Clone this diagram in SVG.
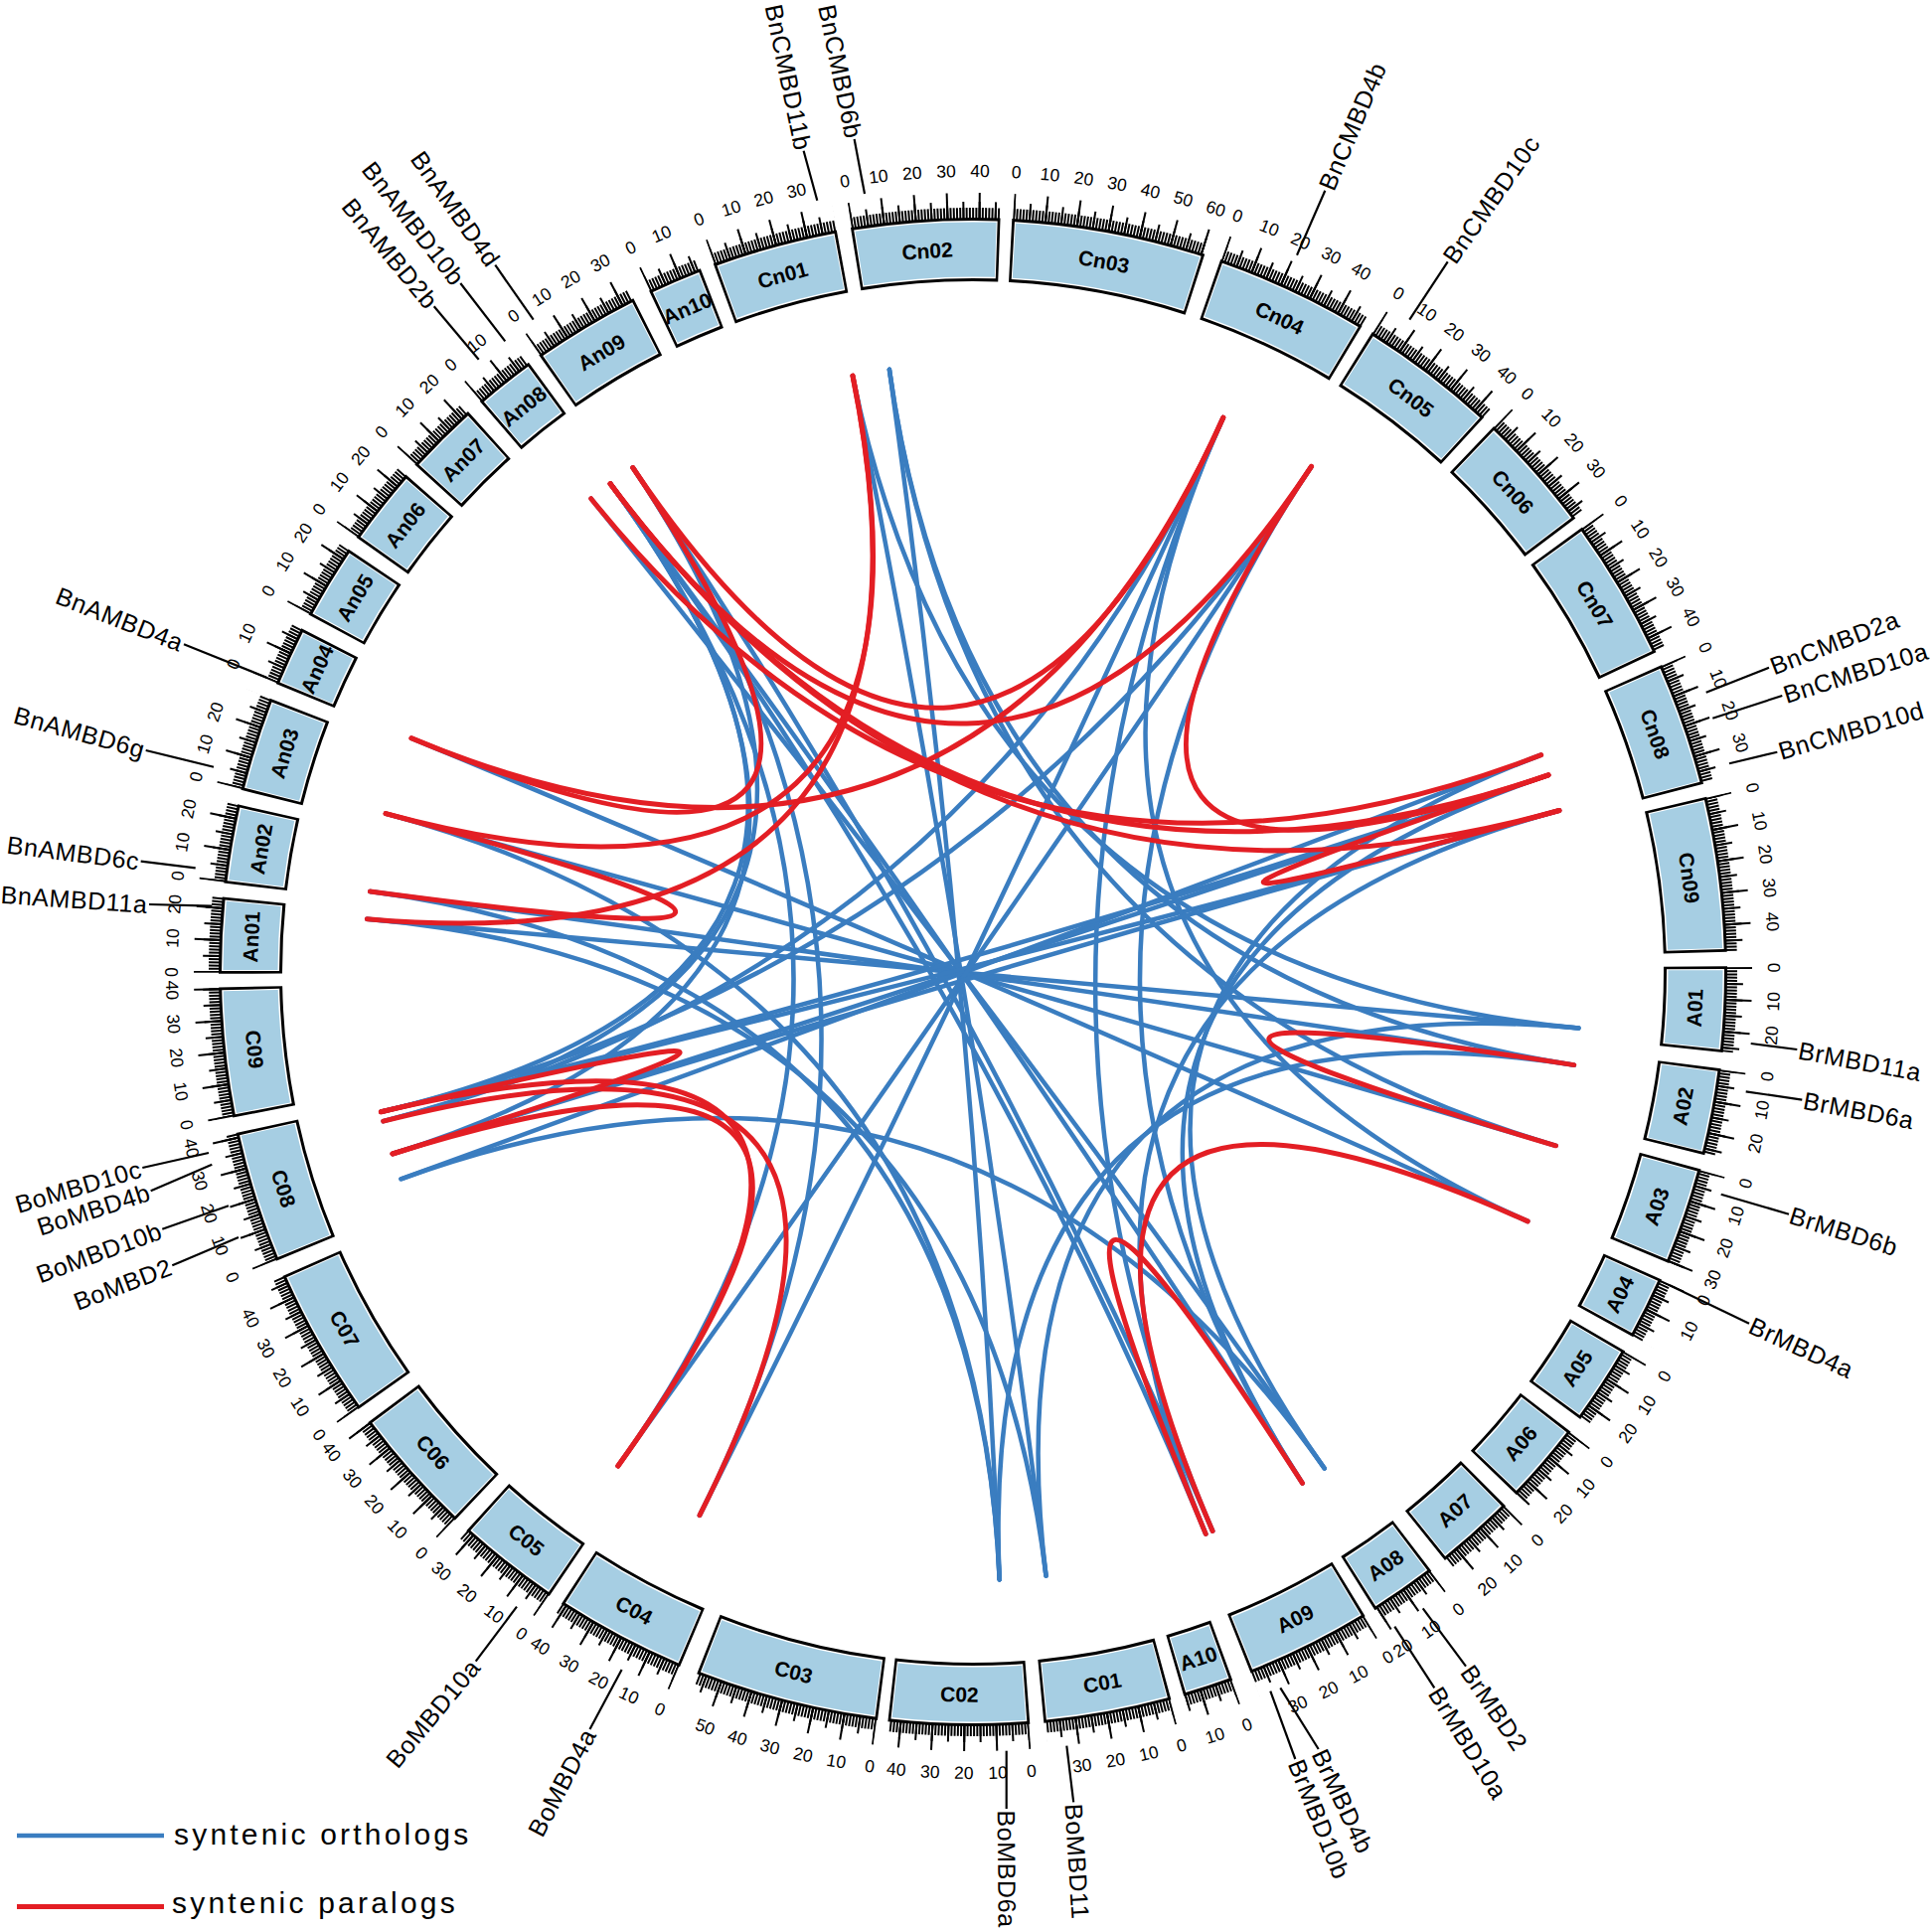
<svg xmlns="http://www.w3.org/2000/svg" width="1944" height="1944" viewBox="0 0 1944 1944">
<style>
text{font-family:"Liberation Sans",Arial,Helvetica,sans-serif;fill:#000}
.cl{font-weight:bold;font-size:21px;text-anchor:middle}
.tn{font-size:17.5px;text-anchor:middle}
.gn{font-size:25px;letter-spacing:0.6px;dominant-baseline:central}
.ge{text-anchor:end}
.ld{stroke:#000;stroke-width:2.2;fill:none}
.or path,.pa path{fill:none;stroke-linecap:round}
.or{stroke:#3a7dc0;stroke-width:4.5}
.pa{stroke:#e31e24;stroke-width:5}
.lg{font-size:30px;letter-spacing:3.2px}
</style>
<defs>
<circle id="rO" cx="979" cy="978" r="727" pathLength="360" fill="none" stroke="#000" stroke-width="64" transform="rotate(-0.13 979 978)"/>
<circle id="rW" cx="979" cy="978" r="727" pathLength="360" fill="none" stroke="#fff" stroke-width="58" transform="rotate(0.08 979 978)"/>
<circle id="rF" cx="979" cy="978" r="727" pathLength="360" fill="none" stroke="#a6cee3" stroke-width="55" transform="rotate(0.16 979 978)"/>
<g id="tk" fill="none" stroke="#000" transform="rotate(-0.075 979 978)">
<circle cx="979" cy="978" r="763" pathLength="1484.536" stroke-width="12" stroke-dasharray="0.62 0.38"/>
<circle cx="979" cy="978" r="766" pathLength="1484.536" stroke-width="18" stroke-dasharray="0.62 4.38"/>
<circle cx="979" cy="978" r="770.5" pathLength="1484.536" stroke-width="27" stroke-dasharray="0.62 9.38"/>
</g>
<circle id="mc" cx="979" cy="978" r="771" pathLength="360" fill="none" stroke="#fff" stroke-width="44" transform="rotate(-0.06 979 978)"/>
<mask id="m15" maskUnits="userSpaceOnUse" x="0" y="0" width="1944" height="1944"><use href="#mc" stroke-dasharray="3.8175 400"/></mask>
<mask id="m16" maskUnits="userSpaceOnUse" x="0" y="0" width="1944" height="1944"><use href="#mc" stroke-dasharray="4.06 400"/></mask>
<mask id="m18" maskUnits="userSpaceOnUse" x="0" y="0" width="1944" height="1944"><use href="#mc" stroke-dasharray="4.545 400"/></mask>
<mask id="m19" maskUnits="userSpaceOnUse" x="0" y="0" width="1944" height="1944"><use href="#mc" stroke-dasharray="4.7875 400"/></mask>
<mask id="m20" maskUnits="userSpaceOnUse" x="0" y="0" width="1944" height="1944"><use href="#mc" stroke-dasharray="5.03 400"/></mask>
<mask id="m22" maskUnits="userSpaceOnUse" x="0" y="0" width="1944" height="1944"><use href="#mc" stroke-dasharray="5.515 400"/></mask>
<mask id="m23" maskUnits="userSpaceOnUse" x="0" y="0" width="1944" height="1944"><use href="#mc" stroke-dasharray="5.7575 400"/></mask>
<mask id="m24" maskUnits="userSpaceOnUse" x="0" y="0" width="1944" height="1944"><use href="#mc" stroke-dasharray="6 400"/></mask>
<mask id="m25" maskUnits="userSpaceOnUse" x="0" y="0" width="1944" height="1944"><use href="#mc" stroke-dasharray="6.2425 400"/></mask>
<mask id="m26" maskUnits="userSpaceOnUse" x="0" y="0" width="1944" height="1944"><use href="#mc" stroke-dasharray="6.485 400"/></mask>
<mask id="m29" maskUnits="userSpaceOnUse" x="0" y="0" width="1944" height="1944"><use href="#mc" stroke-dasharray="7.2125 400"/></mask>
<mask id="m30" maskUnits="userSpaceOnUse" x="0" y="0" width="1944" height="1944"><use href="#mc" stroke-dasharray="7.455 400"/></mask>
<mask id="m32" maskUnits="userSpaceOnUse" x="0" y="0" width="1944" height="1944"><use href="#mc" stroke-dasharray="7.94 400"/></mask>
<mask id="m33" maskUnits="userSpaceOnUse" x="0" y="0" width="1944" height="1944"><use href="#mc" stroke-dasharray="8.1825 400"/></mask>
<mask id="m37" maskUnits="userSpaceOnUse" x="0" y="0" width="1944" height="1944"><use href="#mc" stroke-dasharray="9.1525 400"/></mask>
<mask id="m38" maskUnits="userSpaceOnUse" x="0" y="0" width="1944" height="1944"><use href="#mc" stroke-dasharray="9.395 400"/></mask>
<mask id="m39" maskUnits="userSpaceOnUse" x="0" y="0" width="1944" height="1944"><use href="#mc" stroke-dasharray="9.6375 400"/></mask>
<mask id="m40" maskUnits="userSpaceOnUse" x="0" y="0" width="1944" height="1944"><use href="#mc" stroke-dasharray="9.88 400"/></mask>
<mask id="m41" maskUnits="userSpaceOnUse" x="0" y="0" width="1944" height="1944"><use href="#mc" stroke-dasharray="10.1225 400"/></mask>
<mask id="m43" maskUnits="userSpaceOnUse" x="0" y="0" width="1944" height="1944"><use href="#mc" stroke-dasharray="10.6075 400"/></mask>
<mask id="m44" maskUnits="userSpaceOnUse" x="0" y="0" width="1944" height="1944"><use href="#mc" stroke-dasharray="10.85 400"/></mask>
<mask id="m46" maskUnits="userSpaceOnUse" x="0" y="0" width="1944" height="1944"><use href="#mc" stroke-dasharray="11.335 400"/></mask>
<mask id="m47" maskUnits="userSpaceOnUse" x="0" y="0" width="1944" height="1944"><use href="#mc" stroke-dasharray="11.5775 400"/></mask>
<mask id="m48" maskUnits="userSpaceOnUse" x="0" y="0" width="1944" height="1944"><use href="#mc" stroke-dasharray="11.82 400"/></mask>
<mask id="m57" maskUnits="userSpaceOnUse" x="0" y="0" width="1944" height="1944"><use href="#mc" stroke-dasharray="14.0025 400"/></mask>
<mask id="m60" maskUnits="userSpaceOnUse" x="0" y="0" width="1944" height="1944"><use href="#mc" stroke-dasharray="14.73 400"/></mask>
</defs>
<rect width="1944" height="1944" fill="#fff"/>

<g id="links">
<g class="or">
<path d="M369.3 924.7Q979 978 1588.4 1034.5"/>
<path d="M372.4 897.1Q979 978 1583.8 1071.6"/>
<path d="M388.1 818.6Q979 978 1565.5 1152.8"/>
<path d="M414 742.8Q979 978 1537.2 1228.9"/>
<path d="M636.8 470.6Q979 978 1220.1 1540.5"/>
<path d="M594.7 501.7Q979 978 1332.7 1477.5"/>
<path d="M614.1 486.7Q979 978 1310.5 1492.4"/>
<path d="M614.1 486.7Q979 978 1213.2 1543.4"/>
<path d="M858 378.1Q979 978 1052.5 1585.6"/>
<path d="M894.9 371.8Q979 978 1005.7 1589.4"/>
<path d="M1230.8 420.2Q979 978 704 1524.7"/>
<path d="M1230.8 420.2Q979 978 385.7 1128.1"/>
<path d="M1550.7 759.7Q979 978 403.5 1186.3"/>
<path d="M1558 779.8Q979 978 395 1161"/>
<path d="M1569 815.5Q979 978 383.4 1118.8"/>
<path d="M1319.5 469.4Q979 978 621.9 1475"/>
<path d="M369.3 924.7Q979 978 1052.5 1585.6"/>
<path d="M372.4 897.1Q979 978 1005.7 1589.4"/>
<path d="M388.1 818.6Q979 978 1005.7 1589.4"/>
<path d="M636.8 470.6Q979 978 704 1524.7"/>
<path d="M614.1 486.7Q979 978 395 1161"/>
<path d="M614.1 486.7Q979 978 621.9 1475"/>
<path d="M858 378.1Q979 978 1588.4 1034.5"/>
<path d="M894.9 371.8Q979 978 1583.8 1071.6"/>
<path d="M894.9 371.8Q979 978 1565.5 1152.8"/>
<path d="M1230.8 420.2Q979 978 1537.2 1228.9"/>
<path d="M1230.8 420.2Q979 978 1220.1 1540.5"/>
<path d="M1550.7 759.7Q979 978 1332.7 1477.5"/>
<path d="M1558 779.8Q979 978 1310.5 1492.4"/>
<path d="M1569 815.5Q979 978 1213.2 1543.4"/>
<path d="M1319.5 469.4Q979 978 1310.5 1492.4"/>
<path d="M636.8 470.6Q979 978 385.7 1128.1"/>
<path d="M1558 779.8Q979 978 383.4 1118.8"/>
<path d="M1569 815.5Q979 978 395 1161"/>
<path d="M614.1 486.7Q979 978 383.4 1118.8"/>
<path d="M1319.5 469.4Q979 978 383.4 1118.8"/>
<path d="M1588.4 1034.5Q979 978 1052.5 1585.6"/>
<path d="M1583.8 1071.6Q979 978 1005.7 1589.4"/>
<path d="M1332.7 1477.5Q979 978 403.5 1186.3"/>
</g>
<g class="pa">
<path d="M372.4 897.1Q979 978 388.1 818.6"/>
<path d="M369.3 924.7Q979 978 858 378.1"/>
<path d="M388.1 818.6Q979 978 858 378.1"/>
<path d="M414 742.8Q979 978 1230.8 420.2"/>
<path d="M636.8 470.6Q979 978 1230.8 420.2"/>
<path d="M594.7 501.7Q979 978 1550.7 759.7"/>
<path d="M614.1 486.7Q979 978 1558 779.8"/>
<path d="M614.1 486.7Q979 978 1569 815.5"/>
<path d="M614.1 486.7Q979 978 1319.5 469.4"/>
<path d="M1558 779.8Q979 978 1569 815.5"/>
<path d="M1319.5 469.4Q979 978 1558 779.8"/>
<path d="M1583.8 1071.6Q979 978 1565.5 1152.8"/>
<path d="M1537.2 1228.9Q979 978 1220.1 1540.5"/>
<path d="M1310.5 1492.4Q979 978 1213.2 1543.4"/>
<path d="M383.4 1118.8Q979 978 395 1161"/>
<path d="M704 1524.7Q979 978 385.7 1128.1"/>
<path d="M621.9 1475Q979 978 383.4 1118.8"/>
<path d="M621.9 1475Q979 978 395 1161"/>
<path d="M414 742.8Q979 978 636.8 470.6"/>
</g>
</g>

<g id="An01"><g transform="rotate(180 979 978)"><use href="#rO" stroke-dasharray="5.838 400"/><use href="#rW" stroke-dasharray="5.418 400"/><use href="#rF" stroke-dasharray="5.258 400"/><g mask="url(#m23)"><use href="#tk"/></g></g><text class="cl" x="979" y="258.5" transform="rotate(272.79 979 978)">An01</text><g class="tn"><text x="979" y="178" transform="rotate(270 979 978)">0</text><text x="979" y="178" transform="rotate(272.425 979 978)">10</text><text x="979" y="178" transform="rotate(274.85 979 978)">20</text></g></g>
<g id="An02"><g transform="rotate(186.9 979 978)"><use href="#rO" stroke-dasharray="6.08 400"/><use href="#rW" stroke-dasharray="5.66 400"/><use href="#rF" stroke-dasharray="5.5 400"/><g mask="url(#m24)"><use href="#tk"/></g></g><text class="cl" x="979" y="258.5" transform="rotate(279.81 979 978)">An02</text><g class="tn"><text x="979" y="178" transform="rotate(276.9 979 978)">0</text><text x="979" y="178" transform="rotate(279.325 979 978)">10</text><text x="979" y="178" transform="rotate(281.75 979 978)">20</text></g></g>
<g id="An03"><g transform="rotate(194.1 979 978)"><use href="#rO" stroke-dasharray="7.293 400"/><use href="#rW" stroke-dasharray="6.873 400"/><use href="#rF" stroke-dasharray="6.713 400"/><g mask="url(#m29)"><use href="#tk"/></g></g><text class="cl" x="979" y="258.5" transform="rotate(287.62 979 978)">An03</text><g class="tn"><text x="979" y="178" transform="rotate(284.1 979 978)">0</text><text x="979" y="178" transform="rotate(286.525 979 978)">10</text><text x="979" y="178" transform="rotate(288.95 979 978)">20</text></g></g>
<g id="An04"><g transform="rotate(202.6 979 978)"><use href="#rO" stroke-dasharray="4.625 400"/><use href="#rW" stroke-dasharray="4.205 400"/><use href="#rF" stroke-dasharray="4.045 400"/><g mask="url(#m18)"><use href="#tk"/></g></g><text class="cl" x="979" y="258.5" transform="rotate(294.78 979 978)">An04</text><g class="tn"><text x="979" y="178" transform="rotate(292.6 979 978)">0</text><text x="979" y="178" transform="rotate(295.025 979 978)">10</text></g></g>
<g id="An05"><g transform="rotate(208.4 979 978)"><use href="#rO" stroke-dasharray="5.838 400"/><use href="#rW" stroke-dasharray="5.418 400"/><use href="#rF" stroke-dasharray="5.258 400"/><g mask="url(#m23)"><use href="#tk"/></g></g><text class="cl" x="979" y="258.5" transform="rotate(301.19 979 978)">An05</text><g class="tn"><text x="979" y="178" transform="rotate(298.4 979 978)">0</text><text x="979" y="178" transform="rotate(300.825 979 978)">10</text><text x="979" y="178" transform="rotate(303.25 979 978)">20</text></g></g>
<g id="An06"><g transform="rotate(215.3 979 978)"><use href="#rO" stroke-dasharray="6.08 400"/><use href="#rW" stroke-dasharray="5.66 400"/><use href="#rF" stroke-dasharray="5.5 400"/><g mask="url(#m24)"><use href="#tk"/></g></g><text class="cl" x="979" y="258.5" transform="rotate(308.21 979 978)">An06</text><g class="tn"><text x="979" y="178" transform="rotate(305.3 979 978)">0</text><text x="979" y="178" transform="rotate(307.725 979 978)">10</text><text x="979" y="178" transform="rotate(310.15 979 978)">20</text></g></g>
<g id="An07"><g transform="rotate(222.4 979 978)"><use href="#rO" stroke-dasharray="5.716 400"/><use href="#rW" stroke-dasharray="5.296 400"/><use href="#rF" stroke-dasharray="5.136 400"/><g mask="url(#m22)"><use href="#tk"/></g></g><text class="cl" x="979" y="258.5" transform="rotate(315.13 979 978)">An07</text><g class="tn"><text x="979" y="178" transform="rotate(312.4 979 978)">0</text><text x="979" y="178" transform="rotate(314.825 979 978)">10</text><text x="979" y="178" transform="rotate(317.25 979 978)">20</text></g></g>
<g id="An08"><g transform="rotate(229.3 979 978)"><use href="#rO" stroke-dasharray="4.746 400"/><use href="#rW" stroke-dasharray="4.326 400"/><use href="#rF" stroke-dasharray="4.166 400"/><g mask="url(#m18)"><use href="#tk"/></g></g><text class="cl" x="979" y="258.5" transform="rotate(321.54 979 978)">An08</text><g class="tn"><text x="979" y="178" transform="rotate(319.3 979 978)">0</text><text x="979" y="178" transform="rotate(321.725 979 978)">10</text></g></g>
<g id="An09"><g transform="rotate(235 979 978)"><use href="#rO" stroke-dasharray="8.384 400"/><use href="#rW" stroke-dasharray="7.964 400"/><use href="#rF" stroke-dasharray="7.804 400"/><g mask="url(#m33)"><use href="#tk"/></g></g><text class="cl" x="979" y="258.5" transform="rotate(329.06 979 978)">An09</text><g class="tn"><text x="979" y="178" transform="rotate(325 979 978)">0</text><text x="979" y="178" transform="rotate(327.425 979 978)">10</text><text x="979" y="178" transform="rotate(329.85 979 978)">20</text><text x="979" y="178" transform="rotate(332.275 979 978)">30</text></g></g>
<g id="An10"><g transform="rotate(244.7 979 978)"><use href="#rO" stroke-dasharray="4.261 400"/><use href="#rW" stroke-dasharray="3.841 400"/><use href="#rF" stroke-dasharray="3.681 400"/><g mask="url(#m16)"><use href="#tk"/></g></g><text class="cl" x="979" y="258.5" transform="rotate(336.7 979 978)">An10</text><g class="tn"><text x="979" y="178" transform="rotate(334.7 979 978)">0</text><text x="979" y="178" transform="rotate(337.125 979 978)">10</text></g></g>
<g id="Cn01"><g transform="rotate(250 979 978)"><use href="#rO" stroke-dasharray="9.718 400"/><use href="#rW" stroke-dasharray="9.298 400"/><use href="#rF" stroke-dasharray="9.138 400"/><g mask="url(#m39)"><use href="#tk"/></g></g><text class="cl" x="979" y="258.5" transform="rotate(344.73 979 978)">Cn01</text><g class="tn"><text x="979" y="178" transform="rotate(340 979 978)">0</text><text x="979" y="178" transform="rotate(342.425 979 978)">10</text><text x="979" y="178" transform="rotate(344.85 979 978)">20</text><text x="979" y="178" transform="rotate(347.275 979 978)">30</text></g></g>
<g id="Cn02"><g transform="rotate(260.8 979 978)"><use href="#rO" stroke-dasharray="11.415 400"/><use href="#rW" stroke-dasharray="10.995 400"/><use href="#rF" stroke-dasharray="10.835 400"/><g mask="url(#m46)"><use href="#tk"/></g></g><text class="cl" x="979" y="258.5" transform="rotate(356.38 979 978)">Cn02</text><g class="tn"><text x="979" y="178" transform="rotate(350.8 979 978)">0</text><text x="979" y="178" transform="rotate(353.225 979 978)">10</text><text x="979" y="178" transform="rotate(355.65 979 978)">20</text><text x="979" y="178" transform="rotate(358.075 979 978)">30</text><text x="979" y="178" transform="rotate(0.5 979 978)">40</text></g></g>
<g id="Cn03"><g transform="rotate(-86.9 979 978)"><use href="#rO" stroke-dasharray="14.931 400"/><use href="#rW" stroke-dasharray="14.511 400"/><use href="#rF" stroke-dasharray="14.351 400"/><g mask="url(#m60)"><use href="#tk"/></g></g><text class="cl" x="979" y="258.5" transform="rotate(10.44 979 978)">Cn03</text><g class="tn"><text x="979" y="178" transform="rotate(3.1 979 978)">0</text><text x="979" y="178" transform="rotate(5.525 979 978)">10</text><text x="979" y="178" transform="rotate(7.95 979 978)">20</text><text x="979" y="178" transform="rotate(10.375 979 978)">30</text><text x="979" y="178" transform="rotate(12.8 979 978)">40</text><text x="979" y="178" transform="rotate(15.225 979 978)">50</text><text x="979" y="178" transform="rotate(17.65 979 978)">60</text></g></g>
<g id="Cn04"><g transform="rotate(-70.7 979 978)"><use href="#rO" stroke-dasharray="11.9 400"/><use href="#rW" stroke-dasharray="11.48 400"/><use href="#rF" stroke-dasharray="11.32 400"/><g mask="url(#m48)"><use href="#tk"/></g></g><text class="cl" x="979" y="258.5" transform="rotate(25.12 979 978)">Cn04</text><g class="tn"><text x="979" y="178" transform="rotate(19.3 979 978)">0</text><text x="979" y="178" transform="rotate(21.725 979 978)">10</text><text x="979" y="178" transform="rotate(24.15 979 978)">20</text><text x="979" y="178" transform="rotate(26.575 979 978)">30</text><text x="979" y="178" transform="rotate(29 979 978)">40</text></g></g>
<g id="Cn05"><g transform="rotate(-57.9 979 978)"><use href="#rO" stroke-dasharray="10.688 400"/><use href="#rW" stroke-dasharray="10.268 400"/><use href="#rF" stroke-dasharray="10.108 400"/><g mask="url(#m43)"><use href="#tk"/></g></g><text class="cl" x="979" y="258.5" transform="rotate(37.31 979 978)">Cn05</text><g class="tn"><text x="979" y="178" transform="rotate(32.1 979 978)">0</text><text x="979" y="178" transform="rotate(34.525 979 978)">10</text><text x="979" y="178" transform="rotate(36.95 979 978)">20</text><text x="979" y="178" transform="rotate(39.375 979 978)">30</text><text x="979" y="178" transform="rotate(41.8 979 978)">40</text></g></g>
<g id="Cn06"><g transform="rotate(-46.2 979 978)"><use href="#rO" stroke-dasharray="9.354 400"/><use href="#rW" stroke-dasharray="8.934 400"/><use href="#rF" stroke-dasharray="8.774 400"/><g mask="url(#m37)"><use href="#tk"/></g></g><text class="cl" x="979" y="258.5" transform="rotate(48.35 979 978)">Cn06</text><g class="tn"><text x="979" y="178" transform="rotate(43.8 979 978)">0</text><text x="979" y="178" transform="rotate(46.225 979 978)">10</text><text x="979" y="178" transform="rotate(48.65 979 978)">20</text><text x="979" y="178" transform="rotate(51.075 979 978)">30</text></g></g>
<g id="Cn07"><g transform="rotate(-36 979 978)"><use href="#rO" stroke-dasharray="11.051 400"/><use href="#rW" stroke-dasharray="10.631 400"/><use href="#rF" stroke-dasharray="10.471 400"/><g mask="url(#m44)"><use href="#tk"/></g></g><text class="cl" x="979" y="258.5" transform="rotate(59.4 979 978)">Cn07</text><g class="tn"><text x="979" y="178" transform="rotate(54 979 978)">0</text><text x="979" y="178" transform="rotate(56.425 979 978)">10</text><text x="979" y="178" transform="rotate(58.85 979 978)">20</text><text x="979" y="178" transform="rotate(61.275 979 978)">30</text><text x="979" y="178" transform="rotate(63.7 979 978)">40</text></g></g>
<g id="Cn08"><g transform="rotate(-23.9 979 978)"><use href="#rO" stroke-dasharray="9.596 400"/><use href="#rW" stroke-dasharray="9.176 400"/><use href="#rF" stroke-dasharray="9.016 400"/><g mask="url(#m38)"><use href="#tk"/></g></g><text class="cl" x="979" y="258.5" transform="rotate(70.77 979 978)">Cn08</text><g class="tn"><text x="979" y="178" transform="rotate(66.1 979 978)">0</text><text x="979" y="178" transform="rotate(68.525 979 978)">10</text><text x="979" y="178" transform="rotate(70.95 979 978)">20</text><text x="979" y="178" transform="rotate(73.375 979 978)">30</text></g></g>
<g id="Cn09"><g transform="rotate(-13.3 979 978)"><use href="#rO" stroke-dasharray="11.9 400"/><use href="#rW" stroke-dasharray="11.48 400"/><use href="#rF" stroke-dasharray="11.32 400"/><g mask="url(#m48)"><use href="#tk"/></g></g><text class="cl" x="979" y="258.5" transform="rotate(82.52 979 978)">Cn09</text><g class="tn"><text x="979" y="178" transform="rotate(76.7 979 978)">0</text><text x="979" y="178" transform="rotate(79.125 979 978)">10</text><text x="979" y="178" transform="rotate(81.55 979 978)">20</text><text x="979" y="178" transform="rotate(83.975 979 978)">30</text><text x="979" y="178" transform="rotate(86.4 979 978)">40</text></g></g>

<g id="A01"><g transform="rotate(-0.3 979 978)"><use href="#rO" stroke-dasharray="6.565 400"/><use href="#rW" stroke-dasharray="6.145 400"/><use href="#rF" stroke-dasharray="5.985 400"/><g mask="url(#m26)"><use href="#tk"/></g></g><text class="cl" x="979" y="1712.5" transform="rotate(-87.15 979 978)">A01</text><g class="tn"><text x="979" y="1790" transform="rotate(-90.3 979 978)">0</text><text x="979" y="1790" transform="rotate(-87.875 979 978)">10</text><text x="979" y="1790" transform="rotate(-85.45 979 978)">20</text></g></g>
<g id="A02"><g transform="rotate(7.5 979 978)"><use href="#rO" stroke-dasharray="6.686 400"/><use href="#rW" stroke-dasharray="6.266 400"/><use href="#rF" stroke-dasharray="6.106 400"/><g mask="url(#m26)"><use href="#tk"/></g></g><text class="cl" x="979" y="1712.5" transform="rotate(-79.29 979 978)">A02</text><g class="tn"><text x="979" y="1790" transform="rotate(-82.5 979 978)">0</text><text x="979" y="1790" transform="rotate(-80.075 979 978)">10</text><text x="979" y="1790" transform="rotate(-77.65 979 978)">20</text></g></g>
<g id="A03"><g transform="rotate(15.3 979 978)"><use href="#rO" stroke-dasharray="7.535 400"/><use href="#rW" stroke-dasharray="7.115 400"/><use href="#rF" stroke-dasharray="6.955 400"/><g mask="url(#m30)"><use href="#tk"/></g></g><text class="cl" x="979" y="1712.5" transform="rotate(-71.06 979 978)">A03</text><g class="tn"><text x="979" y="1790" transform="rotate(-74.7 979 978)">0</text><text x="979" y="1790" transform="rotate(-72.275 979 978)">10</text><text x="979" y="1790" transform="rotate(-69.85 979 978)">20</text><text x="979" y="1790" transform="rotate(-67.425 979 978)">30</text></g></g>
<g id="A04"><g transform="rotate(24.2 979 978)"><use href="#rO" stroke-dasharray="4.868 400"/><use href="#rW" stroke-dasharray="4.448 400"/><use href="#rF" stroke-dasharray="4.288 400"/><g mask="url(#m19)"><use href="#tk"/></g></g><text class="cl" x="979" y="1712.5" transform="rotate(-63.5 979 978)">A04</text><g class="tn"><text x="979" y="1790" transform="rotate(-65.8 979 978)">0</text><text x="979" y="1790" transform="rotate(-63.375 979 978)">10</text></g></g>
<g id="A05"><g transform="rotate(30.3 979 978)"><use href="#rO" stroke-dasharray="6.201 400"/><use href="#rW" stroke-dasharray="5.781 400"/><use href="#rF" stroke-dasharray="5.621 400"/><g mask="url(#m24)"><use href="#tk"/></g></g><text class="cl" x="979" y="1712.5" transform="rotate(-56.73 979 978)">A05</text><g class="tn"><text x="979" y="1790" transform="rotate(-59.7 979 978)">0</text><text x="979" y="1790" transform="rotate(-57.275 979 978)">10</text><text x="979" y="1790" transform="rotate(-54.85 979 978)">20</text></g></g>
<g id="A06"><g transform="rotate(37.7 979 978)"><use href="#rO" stroke-dasharray="6.323 400"/><use href="#rW" stroke-dasharray="5.903 400"/><use href="#rF" stroke-dasharray="5.743 400"/><g mask="url(#m25)"><use href="#tk"/></g></g><text class="cl" x="979" y="1712.5" transform="rotate(-49.27 979 978)">A06</text><g class="tn"><text x="979" y="1790" transform="rotate(-52.3 979 978)">0</text><text x="979" y="1790" transform="rotate(-49.875 979 978)">10</text><text x="979" y="1790" transform="rotate(-47.45 979 978)">20</text></g></g>
<g id="A07"><g transform="rotate(45.2 979 978)"><use href="#rO" stroke-dasharray="6.201 400"/><use href="#rW" stroke-dasharray="5.781 400"/><use href="#rF" stroke-dasharray="5.621 400"/><g mask="url(#m24)"><use href="#tk"/></g></g><text class="cl" x="979" y="1712.5" transform="rotate(-41.83 979 978)">A07</text><g class="tn"><text x="979" y="1790" transform="rotate(-44.8 979 978)">0</text><text x="979" y="1790" transform="rotate(-42.375 979 978)">10</text><text x="979" y="1790" transform="rotate(-39.95 979 978)">20</text></g></g>
<g id="A08"><g transform="rotate(52.7 979 978)"><use href="#rO" stroke-dasharray="5.231 400"/><use href="#rW" stroke-dasharray="4.811 400"/><use href="#rF" stroke-dasharray="4.651 400"/><g mask="url(#m20)"><use href="#tk"/></g></g><text class="cl" x="979" y="1712.5" transform="rotate(-34.81 979 978)">A08</text><g class="tn"><text x="979" y="1790" transform="rotate(-37.3 979 978)">0</text><text x="979" y="1790" transform="rotate(-34.875 979 978)">10</text><text x="979" y="1790" transform="rotate(-32.45 979 978)">20</text></g></g>
<g id="A09"><g transform="rotate(58.8 979 978)"><use href="#rO" stroke-dasharray="9.718 400"/><use href="#rW" stroke-dasharray="9.298 400"/><use href="#rF" stroke-dasharray="9.138 400"/><g mask="url(#m39)"><use href="#tk"/></g></g><text class="cl" x="979" y="1712.5" transform="rotate(-26.47 979 978)">A09</text><g class="tn"><text x="979" y="1790" transform="rotate(-31.2 979 978)">0</text><text x="979" y="1790" transform="rotate(-28.775 979 978)">10</text><text x="979" y="1790" transform="rotate(-26.35 979 978)">20</text><text x="979" y="1790" transform="rotate(-23.925 979 978)">30</text></g></g>
<g id="A10"><g transform="rotate(70 979 978)"><use href="#rO" stroke-dasharray="3.898 400"/><use href="#rW" stroke-dasharray="3.478 400"/><use href="#rF" stroke-dasharray="3.318 400"/><g mask="url(#m15)"><use href="#tk"/></g></g><text class="cl" x="979" y="1712.5" transform="rotate(-18.18 979 978)">A10</text><g class="tn"><text x="979" y="1790" transform="rotate(-20 979 978)">0</text><text x="979" y="1790" transform="rotate(-17.575 979 978)">10</text></g></g>

<g id="C01"><g transform="rotate(74.9 979 978)"><use href="#rO" stroke-dasharray="9.839 400"/><use href="#rW" stroke-dasharray="9.419 400"/><use href="#rF" stroke-dasharray="9.259 400"/><g mask="url(#m39)"><use href="#tk"/></g></g><text class="cl" x="979" y="1712.5" transform="rotate(-10.31 979 978)">C01</text><g class="tn"><text x="979" y="1790" transform="rotate(-15.1 979 978)">0</text><text x="979" y="1790" transform="rotate(-12.675 979 978)">10</text><text x="979" y="1790" transform="rotate(-10.25 979 978)">20</text><text x="979" y="1790" transform="rotate(-7.825 979 978)">30</text></g></g>
<g id="C02"><g transform="rotate(85.8 979 978)"><use href="#rO" stroke-dasharray="10.809 400"/><use href="#rW" stroke-dasharray="10.389 400"/><use href="#rF" stroke-dasharray="10.229 400"/><g mask="url(#m43)"><use href="#tk"/></g></g><text class="cl" x="979" y="1712.5" transform="rotate(1.07 979 978)">C02</text><g class="tn"><text x="979" y="1790" transform="rotate(-4.2 979 978)">0</text><text x="979" y="1790" transform="rotate(-1.775 979 978)">10</text><text x="979" y="1790" transform="rotate(0.65 979 978)">20</text><text x="979" y="1790" transform="rotate(3.075 979 978)">30</text><text x="979" y="1790" transform="rotate(5.5 979 978)">40</text></g></g>
<g id="C03"><g transform="rotate(97.4 979 978)"><use href="#rO" stroke-dasharray="14.204 400"/><use href="#rW" stroke-dasharray="13.784 400"/><use href="#rF" stroke-dasharray="13.624 400"/><g mask="url(#m57)"><use href="#tk"/></g></g><text class="cl" x="979" y="1712.5" transform="rotate(14.37 979 978)">C03</text><g class="tn"><text x="979" y="1790" transform="rotate(7.4 979 978)">0</text><text x="979" y="1790" transform="rotate(9.825 979 978)">10</text><text x="979" y="1790" transform="rotate(12.25 979 978)">20</text><text x="979" y="1790" transform="rotate(14.675 979 978)">30</text><text x="979" y="1790" transform="rotate(17.1 979 978)">40</text><text x="979" y="1790" transform="rotate(19.525 979 978)">50</text></g></g>
<g id="C04"><g transform="rotate(113 979 978)"><use href="#rO" stroke-dasharray="10.203 400"/><use href="#rW" stroke-dasharray="9.783 400"/><use href="#rF" stroke-dasharray="9.623 400"/><g mask="url(#m41)"><use href="#tk"/></g></g><text class="cl" x="979" y="1712.5" transform="rotate(27.97 979 978)">C04</text><g class="tn"><text x="979" y="1790" transform="rotate(23 979 978)">0</text><text x="979" y="1790" transform="rotate(25.425 979 978)">10</text><text x="979" y="1790" transform="rotate(27.85 979 978)">20</text><text x="979" y="1790" transform="rotate(30.275 979 978)">30</text><text x="979" y="1790" transform="rotate(32.7 979 978)">40</text></g></g>
<g id="C05"><g transform="rotate(124.3 979 978)"><use href="#rO" stroke-dasharray="8.02 400"/><use href="#rW" stroke-dasharray="7.6 400"/><use href="#rF" stroke-dasharray="7.44 400"/><g mask="url(#m32)"><use href="#tk"/></g></g><text class="cl" x="979" y="1712.5" transform="rotate(38.18 979 978)">C05</text><g class="tn"><text x="979" y="1790" transform="rotate(34.3 979 978)">0</text><text x="979" y="1790" transform="rotate(36.725 979 978)">10</text><text x="979" y="1790" transform="rotate(39.15 979 978)">20</text><text x="979" y="1790" transform="rotate(41.575 979 978)">30</text></g></g>
<g id="C06"><g transform="rotate(133.5 979 978)"><use href="#rO" stroke-dasharray="9.96 400"/><use href="#rW" stroke-dasharray="9.54 400"/><use href="#rF" stroke-dasharray="9.38 400"/><g mask="url(#m40)"><use href="#tk"/></g></g><text class="cl" x="979" y="1712.5" transform="rotate(48.35 979 978)">C06</text><g class="tn"><text x="979" y="1790" transform="rotate(43.5 979 978)">0</text><text x="979" y="1790" transform="rotate(45.925 979 978)">10</text><text x="979" y="1790" transform="rotate(48.35 979 978)">20</text><text x="979" y="1790" transform="rotate(50.775 979 978)">30</text><text x="979" y="1790" transform="rotate(53.2 979 978)">40</text></g></g>
<g id="C07"><g transform="rotate(144.7 979 978)"><use href="#rO" stroke-dasharray="11.658 400"/><use href="#rW" stroke-dasharray="11.238 400"/><use href="#rF" stroke-dasharray="11.078 400"/><g mask="url(#m47)"><use href="#tk"/></g></g><text class="cl" x="979" y="1712.5" transform="rotate(60.4 979 978)">C07</text><g class="tn"><text x="979" y="1790" transform="rotate(54.7 979 978)">0</text><text x="979" y="1790" transform="rotate(57.125 979 978)">10</text><text x="979" y="1790" transform="rotate(59.55 979 978)">20</text><text x="979" y="1790" transform="rotate(61.975 979 978)">30</text><text x="979" y="1790" transform="rotate(64.4 979 978)">40</text></g></g>
<g id="C08"><g transform="rotate(157.6 979 978)"><use href="#rO" stroke-dasharray="10.203 400"/><use href="#rW" stroke-dasharray="9.783 400"/><use href="#rF" stroke-dasharray="9.623 400"/><g mask="url(#m41)"><use href="#tk"/></g></g><text class="cl" x="979" y="1712.5" transform="rotate(72.57 979 978)">C08</text><g class="tn"><text x="979" y="1790" transform="rotate(67.6 979 978)">0</text><text x="979" y="1790" transform="rotate(70.025 979 978)">10</text><text x="979" y="1790" transform="rotate(72.45 979 978)">20</text><text x="979" y="1790" transform="rotate(74.875 979 978)">30</text><text x="979" y="1790" transform="rotate(77.3 979 978)">40</text></g></g>
<g id="C09"><g transform="rotate(169 979 978)"><use href="#rO" stroke-dasharray="9.96 400"/><use href="#rW" stroke-dasharray="9.54 400"/><use href="#rF" stroke-dasharray="9.38 400"/><g mask="url(#m40)"><use href="#tk"/></g></g><text class="cl" x="979" y="1712.5" transform="rotate(83.85 979 978)">C09</text><g class="tn"><text x="979" y="1790" transform="rotate(79 979 978)">0</text><text x="979" y="1790" transform="rotate(81.425 979 978)">10</text><text x="979" y="1790" transform="rotate(83.85 979 978)">20</text><text x="979" y="1790" transform="rotate(86.275 979 978)">30</text><text x="979" y="1790" transform="rotate(88.7 979 978)">40</text></g></g>

<g id="genes" class="gn">
<g id="g-BnCMBD11b"><line class="ld" x1="822.3" y1="201.7" x2="808.6" y2="151.7"/><text class="ge" x="808.6" y="151" transform="rotate(78.3 808.6 151)">BnCMBD11b</text></g>
<g id="g-BnCMBD6b"><line class="ld" x1="870" y1="195" x2="859.6" y2="140"/><text class="ge" x="859.6" y="139" transform="rotate(78.3 859.6 139)">BnCMBD6b</text></g>
<g id="g-BnCMBD4b"><line class="ld" x1="1305" y1="256.7" x2="1333.3" y2="191.7"/><text x="1334" y="190" transform="rotate(-67 1334 190)">BnCMBD4b</text></g>
<g id="g-BnCMBD10c"><line class="ld" x1="1418.3" y1="321.7" x2="1456.7" y2="263.3"/><text x="1457.5" y="262" transform="rotate(-55 1457.5 262)">BnCMBD10c</text></g>
<g id="g-BnCMBD2a"><line class="ld" x1="1716.7" y1="696.7" x2="1780" y2="671.7"/><text x="1782" y="671" transform="rotate(-21 1782 671)">BnCMBD2a</text></g>
<g id="g-BnCMBD10a"><line class="ld" x1="1723.3" y1="722.7" x2="1793.3" y2="700"/><text x="1795" y="699.5" transform="rotate(-17.5 1795 699.5)">BnCMBD10a</text></g>
<g id="g-BnCMBD10d"><line class="ld" x1="1740" y1="768.3" x2="1788.3" y2="756.7"/><text x="1790" y="756" transform="rotate(-16.3 1790 756)">BnCMBD10d</text></g>
<g id="g-BrMBD11a"><line class="ld" x1="1761.7" y1="1050" x2="1808.3" y2="1056"/><text x="1810" y="1056.3" transform="rotate(10.6 1810 1056.3)">BrMBD11a</text></g>
<g id="g-BrMBD6a"><line class="ld" x1="1756.7" y1="1098.3" x2="1813.3" y2="1106.7"/><text x="1815" y="1107" transform="rotate(10.5 1815 1107)">BrMBD6a</text></g>
<g id="g-BrMBD6b"><line class="ld" x1="1731.7" y1="1201.7" x2="1800" y2="1221.7"/><text x="1801.5" y="1222" transform="rotate(17.4 1801.5 1222)">BrMBD6b</text></g>
<g id="g-BrMBD4a"><line class="ld" x1="1680" y1="1293.3" x2="1760" y2="1331.7"/><text x="1761.5" y="1332.4" transform="rotate(24.7 1761.5 1332.4)">BrMBD4a</text></g>
<g id="g-BrMBD2"><line class="ld" x1="1431.7" y1="1618.3" x2="1475" y2="1676.7"/><text x="1476" y="1678" transform="rotate(55.6 1476 1678)">BrMBD2</text></g>
<g id="g-BrMBD10a"><line class="ld" x1="1403.3" y1="1636.7" x2="1443.3" y2="1698.3"/><text x="1444" y="1699.6" transform="rotate(58.4 1444 1699.6)">BrMBD10a</text></g>
<g id="g-BrMBD4b"><line class="ld" x1="1288.3" y1="1698.3" x2="1326.7" y2="1760"/><text x="1327.4" y="1761.4" transform="rotate(65 1327.4 1761.4)">BrMBD4b</text></g>
<g id="g-BrMBD10b"><line class="ld" x1="1278.3" y1="1701.7" x2="1303.3" y2="1770"/><text x="1303.9" y="1771.5" transform="rotate(68.2 1303.9 1771.5)">BrMBD10b</text></g>
<g id="g-BoMBD11"><line class="ld" x1="1073.3" y1="1756.7" x2="1080.2" y2="1813.3"/><text x="1080.4" y="1815" transform="rotate(86.5 1080.4 1815)">BoMBD11</text></g>
<g id="g-BoMBD6a"><line class="ld" x1="1012.7" y1="1761.7" x2="1012.7" y2="1820"/><text x="1012.7" y="1821.5" transform="rotate(89.5 1012.7 1821.5)">BoMBD6a</text></g>
<g id="g-BoMBD4a"><line class="ld" x1="625.6" y1="1680" x2="593.5" y2="1740"/><text class="ge" x="592.8" y="1741.3" transform="rotate(-62.3 592.8 1741.3)">BoMBD4a</text></g>
<g id="g-BoMBD10a"><line class="ld" x1="520" y1="1616.7" x2="478.7" y2="1671.7"/><text class="ge" x="477.8" y="1672.9" transform="rotate(-50.4 477.8 1672.9)">BoMBD10a</text></g>
<g id="g-BoMBD10c"><line class="ld" x1="210" y1="1160" x2="143.3" y2="1175"/><text class="ge" x="141.8" y="1175.4" transform="rotate(-16.4 141.8 1175.4)">BoMBD10c</text></g>
<g id="g-BoMBD4b"><line class="ld" x1="213.3" y1="1171.7" x2="151.7" y2="1198.3"/><text class="ge" x="150.3" y="1198.8" transform="rotate(-17.9 150.3 1198.8)">BoMBD4b</text></g>
<g id="g-BoMBD10b"><line class="ld" x1="230" y1="1213.3" x2="163.3" y2="1236.7"/><text class="ge" x="161.9" y="1237.2" transform="rotate(-20.2 161.9 1237.2)">BoMBD10b</text></g>
<g id="g-BoMBD2"><line class="ld" x1="240" y1="1245" x2="173.3" y2="1273.3"/><text class="ge" x="171.9" y="1273.8" transform="rotate(-20.8 171.9 1273.8)">BoMBD2</text></g>
<g id="g-BnAMBD4a"><line class="ld" x1="268.3" y1="681.7" x2="185" y2="648.3"/><text class="ge" x="183.6" y="647.8" transform="rotate(21.5 183.6 647.8)">BnAMBD4a</text></g>
<g id="g-BnAMBD6g"><line class="ld" x1="215" y1="771.7" x2="146.7" y2="755"/><text class="ge" x="145.3" y="754.6" transform="rotate(15.4 145.3 754.6)">BnAMBD6g</text></g>
<g id="g-BnAMBD6c"><line class="ld" x1="196.7" y1="873.3" x2="141.7" y2="866.7"/><text class="ge" x="140.2" y="866.5" transform="rotate(7.3 140.2 866.5)">BnAMBD6c</text></g>
<g id="g-BnAMBD11a"><line class="ld" x1="213.3" y1="911.7" x2="150" y2="910"/><text class="ge" x="148.5" y="909.9" transform="rotate(3.9 148.5 909.9)">BnAMBD11a</text></g>
<g id="g-BnAMBD4d"><line class="ld" x1="536.7" y1="321.7" x2="498.3" y2="266.7"/><text class="ge" x="497.4" y="265.5" transform="rotate(54.8 497.4 265.5)">BnAMBD4d</text></g>
<g id="g-BnAMBD10b"><line class="ld" x1="508.3" y1="343.3" x2="463.3" y2="285"/><text class="ge" x="462.4" y="283.8" transform="rotate(51.9 462.4 283.8)">BnAMBD10b</text></g>
<g id="g-BnAMBD2b"><line class="ld" x1="481.7" y1="361.7" x2="436.7" y2="308.3"/><text class="ge" x="435.7" y="307.2" transform="rotate(50.5 435.7 307.2)">BnAMBD2b</text></g>
</g>

<g id="legend">
<line x1="17" y1="1847" x2="165" y2="1847" stroke="#3a7dc0" stroke-width="4.5"/>
<text class="lg" x="175" y="1856">syntenic orthologs</text>
<line x1="17" y1="1918.5" x2="165" y2="1918.5" stroke="#e31e24" stroke-width="5"/>
<text class="lg" x="173" y="1924.5">syntenic paralogs</text>
</g>
</svg>
